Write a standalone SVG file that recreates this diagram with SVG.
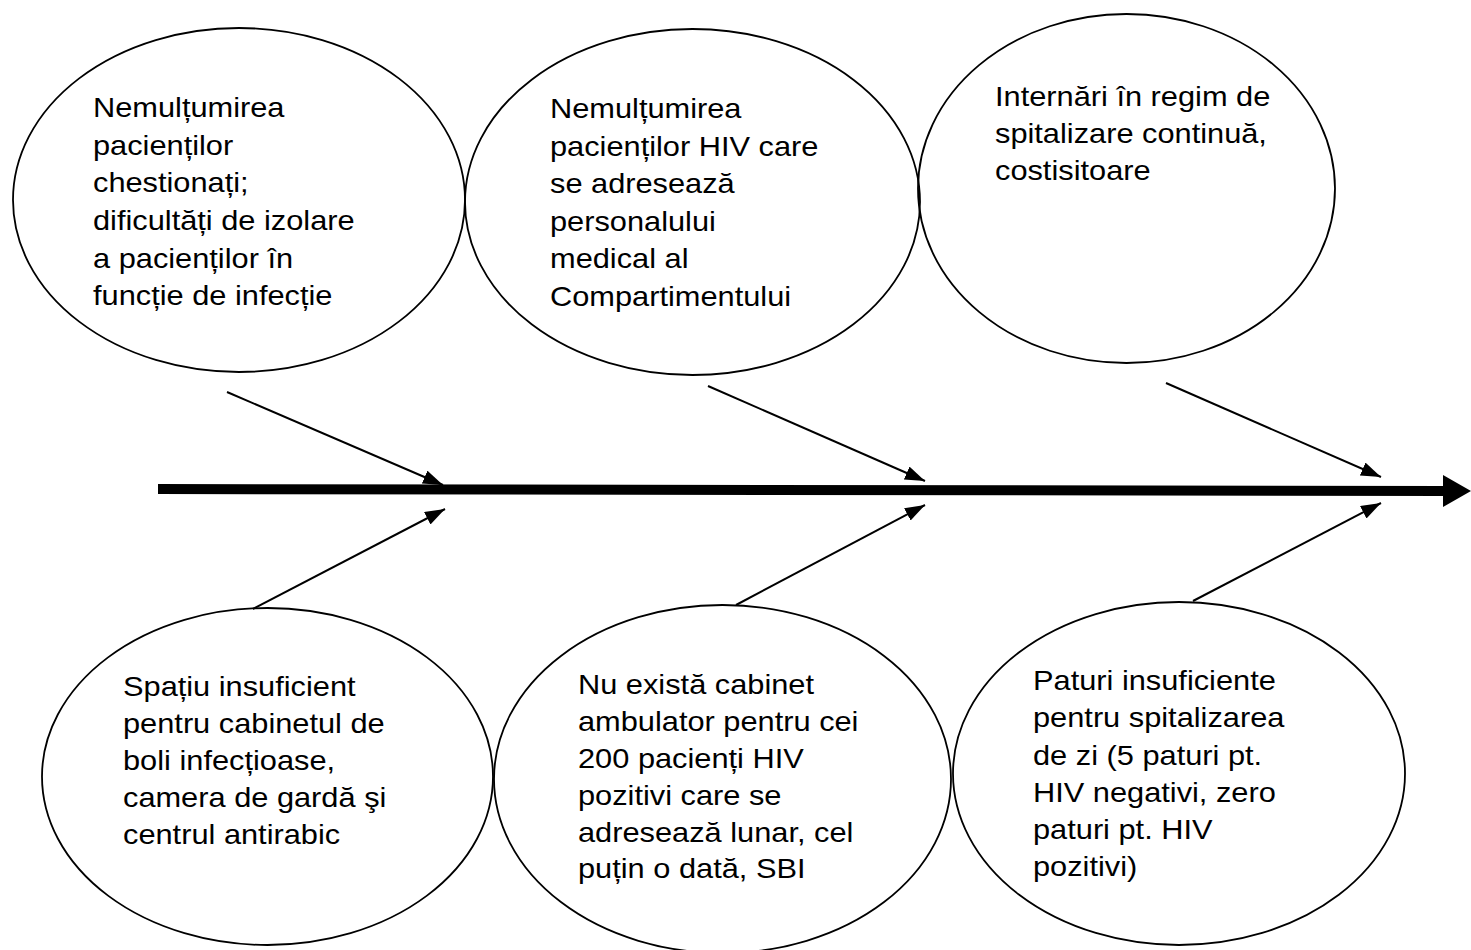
<svg xmlns="http://www.w3.org/2000/svg" width="1471" height="950" viewBox="0 0 1471 950">
<style>
.node ellipse{fill:none;stroke:#000;stroke-width:1.8}
.node text{font-family:"Liberation Sans",Arial,sans-serif;font-size:27px;fill:#000}
.conn line{stroke:#000;stroke-width:2}
</style>
<defs>
<marker id="ah" markerUnits="userSpaceOnUse" markerWidth="22" markerHeight="16" refX="20" refY="7" orient="auto">
<path d="M0,0 L20,7 L0,14 Z" fill="#000"/>
</marker>
</defs>
<rect width="1471" height="950" fill="#fff"/>
<g id="connectors" class="conn">
<line x1="158" y1="489" x2="1445" y2="491" style="stroke-width:10"/>
<polygon points="1443,475 1471,491 1443,507" fill="#000"/>
<line x1="227" y1="392" x2="443" y2="485" marker-end="url(#ah)"/>
<line x1="253" y1="609" x2="445" y2="509" marker-end="url(#ah)"/>
<line x1="708" y1="386" x2="925" y2="481" marker-end="url(#ah)"/>
<line x1="736" y1="605" x2="925" y2="505" marker-end="url(#ah)"/>
<line x1="1166" y1="383" x2="1381" y2="477" marker-end="url(#ah)"/>
<line x1="1193" y1="601" x2="1381" y2="503" marker-end="url(#ah)"/>
</g>
<g id="n1" class="node">
<ellipse cx="239" cy="200" rx="226" ry="172"/>
<text transform="translate(93,117) scale(1.14,1)"><tspan x="0" dy="0">Nemulțumirea</tspan><tspan x="0" dy="37.7">pacienților</tspan><tspan x="0" dy="37.7">chestionați;</tspan><tspan x="0" dy="37.7">dificultăți de izolare</tspan><tspan x="0" dy="37.7">a pacienților în</tspan><tspan x="0" dy="37.7">funcție de infecție</tspan></text>
</g>
<g id="n2" class="node">
<ellipse cx="692.5" cy="202" rx="227.5" ry="173"/>
<text transform="translate(550,118) scale(1.14,1)"><tspan x="0" dy="0">Nemulțumirea</tspan><tspan x="0" dy="37.6">pacienților HIV care</tspan><tspan x="0" dy="37.6">se adresează</tspan><tspan x="0" dy="37.6">personalului</tspan><tspan x="0" dy="37.6">medical al</tspan><tspan x="0" dy="37.6">Compartimentului</tspan></text>
</g>
<g id="n3" class="node">
<ellipse cx="1126.5" cy="188.5" rx="208.5" ry="174.5"/>
<text transform="translate(995,106) scale(1.14,1)"><tspan x="0" dy="0">Internări în regim de</tspan><tspan x="0" dy="37">spitalizare continuă,</tspan><tspan x="0" dy="37">costisitoare</tspan></text>
</g>
<g id="n4" class="node">
<ellipse cx="267.5" cy="776.5" rx="225.5" ry="168.5"/>
<text transform="translate(123,696) scale(1.14,1)"><tspan x="0" dy="0">Spațiu insuficient</tspan><tspan x="0" dy="37">pentru cabinetul de</tspan><tspan x="0" dy="37">boli infecțioase,</tspan><tspan x="0" dy="37">camera de gardă şi</tspan><tspan x="0" dy="37">centrul antirabic</tspan></text>
</g>
<g id="n5" class="node">
<ellipse cx="722.5" cy="779" rx="228.5" ry="174"/>
<text transform="translate(578,694) scale(1.14,1)"><tspan x="0" dy="0">Nu există cabinet</tspan><tspan x="0" dy="36.9">ambulator pentru cei</tspan><tspan x="0" dy="36.9">200 pacienți HIV</tspan><tspan x="0" dy="36.9">pozitivi care se</tspan><tspan x="0" dy="36.9">adresează lunar, cel</tspan><tspan x="0" dy="36.9">puțin o dată, SBI</tspan></text>
</g>
<g id="n6" class="node">
<ellipse cx="1179" cy="773.5" rx="226" ry="171.5"/>
<text transform="translate(1033,690) scale(1.14,1)"><tspan x="0" dy="0">Paturi insuficiente</tspan><tspan x="0" dy="37.3">pentru spitalizarea</tspan><tspan x="0" dy="37.3">de zi (5 paturi pt.</tspan><tspan x="0" dy="37.3">HIV negativi, zero</tspan><tspan x="0" dy="37.3">paturi pt. HIV</tspan><tspan x="0" dy="37.3">pozitivi)</tspan></text>
</g>
</svg>
